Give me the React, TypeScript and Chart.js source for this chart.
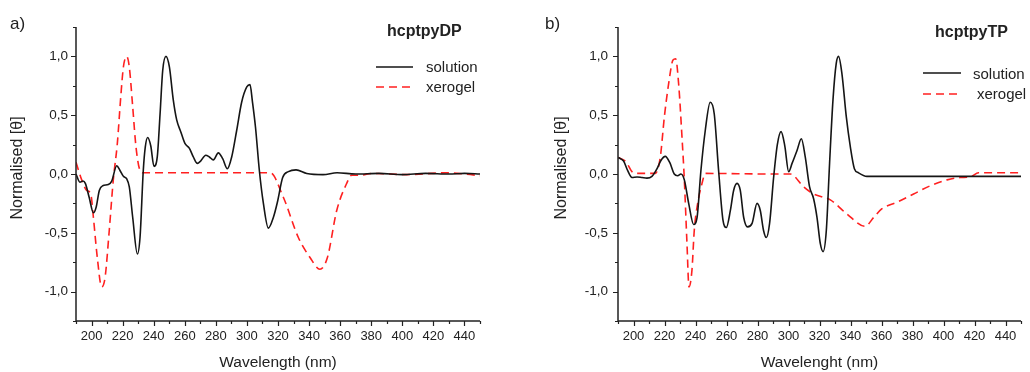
import React, { useEffect, useRef } from 'react';
import { Chart, registerables } from 'chart.js';

Chart.register(...registerables);

const FONT = '"Liberation Sans", Arial, Helvetica, sans-serif';
const TEXT = '#222222';
const AXIS = '#222222';
const BLACK = '#151515';
const RED = '#ff2020';

// ---- tick labels ----
const xMajorTicks = [200, 220, 240, 260, 280, 300, 320, 340, 360, 380, 400, 420, 440];
const xMinorTicks = [190, 210, 230, 250, 270, 290, 310, 330, 350, 370, 390, 410, 430, 450];
const yMajorTicks = [-1, -0.5, 0, 0.5, 1];
const yMinorTicks = [-1.25, -0.75, -0.25, 0.25, 0.75, 1.25];

// ---- panel a) hcptpyDP ----
const dpSolutionNm = [190, 192.5, 194.5, 196, 198.5, 201.2, 203, 205, 207.2, 210.8, 213, 216.2, 218.3, 220.5, 222.6, 224.3, 226.5, 229.5, 231.2, 233.3, 234.6, 236.1, 238.1, 240.2, 242.3, 244.1, 245.8, 247.9, 250.1, 252.6, 254.8, 257.4, 260.1, 262.9, 265.5, 268.1, 270.2, 273.5, 275.8, 278.4, 281.6, 284.4, 287.4, 290.2, 293.4, 296.6, 299.9, 302, 303.5, 305.5, 308, 310.6, 313.8, 317, 319.6, 323, 326.7, 331.6, 338.5, 349, 358, 370, 385, 400, 415, 430, 440, 450];
const dpSolution = [0.0, -0.07, -0.06, -0.08, -0.2, -0.33, -0.28, -0.14, -0.1, -0.09, -0.06, 0.07, 0.03, -0.02, -0.04, -0.11, -0.37, -0.68, -0.54, 0.03, 0.23, 0.31, 0.24, 0.065, 0.145, 0.51, 0.88, 1.0, 0.91, 0.63, 0.46, 0.36, 0.26, 0.22, 0.145, 0.09, 0.11, 0.16, 0.145, 0.12, 0.18, 0.13, 0.045, 0.145, 0.37, 0.61, 0.74, 0.76, 0.62, 0.4, 0.03, -0.25, -0.46, -0.37, -0.24, -0.03, 0.02, 0.035, 0.005, -0.005, 0.01, 0.0, 0.005, -0.005, 0.005, 0.0, 0.005, 0.0];
const dpXerogelNm = [190, 193, 196.9, 199.5, 201.2, 203.7, 206.5, 208.7, 211.4, 214, 216.6, 218.8, 220.5, 222.6, 224.3, 226.5, 228.6, 231.2, 233.3, 260, 300, 315, 323.5, 333.1, 340.6, 347, 351.8, 357.8, 364.2, 367.4, 372.8, 381.3, 402.6, 428.4, 440, 450];
const dpXerogel = [0.1, -0.025, -0.14, -0.17, -0.37, -0.71, -0.96, -0.88, -0.48, -0.05, 0.26, 0.655, 0.91, 1.0, 0.91, 0.57, 0.23, 0.03, 0.01, 0.01, 0.01, 0.01, -0.2, -0.54, -0.71, -0.81, -0.71, -0.31, -0.08, -0.01, -0.01, 0.005, -0.005, 0.01, 0.0, -0.015];

// ---- panel b) hcptpyTP ----
const tpSolutionNm = [190.2, 193.6, 196.2, 199, 202.3, 205.5, 208.7, 211.9, 215.2, 217.7, 220.5, 223.3, 226.3, 228.5, 230.6, 232.8, 235.6, 238.8, 241, 243.5, 246.3, 249.5, 252.1, 254.9, 257.7, 259.9, 262.5, 264.6, 266.8, 268.9, 271.1, 273.6, 276.5, 279.7, 281.8, 283.9, 285.7, 287.8, 290.4, 292.8, 295.2, 297.6, 300.1, 302.3, 305.5, 308.3, 310.8, 313.6, 316.2, 318.4, 320.5, 322.3, 324.4, 326.5, 328.7, 330.8, 332.3, 334.5, 337.3, 339.9, 342.5, 345.2, 350.6, 360, 380, 400, 420, 440, 450];
const tpSolution = [0.14, 0.11, 0.03, -0.03, -0.025, -0.03, -0.035, -0.02, 0.045, 0.115, 0.15, 0.1, 0.0, -0.015, 0.0, -0.05, -0.25, -0.43, -0.37, 0.03, 0.37, 0.61, 0.51, 0.03, -0.39, -0.455, -0.31, -0.14, -0.08, -0.14, -0.37, -0.45, -0.42, -0.25, -0.31, -0.48, -0.54, -0.42, -0.03, 0.25, 0.36, 0.24, 0.02, 0.09, 0.2, 0.3, 0.145, -0.11, -0.21, -0.37, -0.59, -0.66, -0.48, 0.09, 0.63, 0.94, 1.0, 0.85, 0.485, 0.23, 0.045, 0.01, -0.02, -0.02, -0.02, -0.02, -0.02, -0.02, -0.02];
const tpXerogelNm = [190.2, 195.4, 199, 202.3, 214.1, 217.3, 219.9, 222.7, 225.5, 227.2, 229.1, 231.3, 232.8, 234.5, 235.8, 237.7, 239.2, 241.4, 244.2, 246.3, 288, 301.2, 309.8, 316.2, 327, 337.7, 349.5, 354.9, 360.3, 370, 380.7, 391.5, 402.3, 410.8, 417.3, 422.6, 435, 450];
const tpXerogel = [0.14, 0.1, 0.02, 0.005, 0.005, 0.145, 0.485, 0.77, 0.97, 0.98, 0.77, 0.31, -0.05, -0.59, -0.96, -0.82, -0.48, -0.25, -0.08, 0.005, 0.0, 0.0, -0.11, -0.17, -0.22, -0.34, -0.445, -0.37, -0.295, -0.24, -0.17, -0.1, -0.05, -0.03, -0.025, 0.01, 0.01, 0.01];

const seriesLabels = ['solution', 'xerogel'];

type PanelSpec = {
  canvasLeft: number;
  width: number;
  yAxisWidth: number;
  padRight: number;
  yLabelPad: number;
  panelLabel: string;
  panelLabelX: number;
  title: string;
  titleX: number;
  titleY: number;
  legendLineX: [number, number];
  legendLineY: [number, number];
  legendTextX: [number, number];
  legendTextY: [number, number];
  yTitle: string;
  yTitleX: number;
  xTitle: string;
  solNm: number[];
  sol: number[];
  xerNm: number[];
  xer: number[];
};

const DASH = [8, 5];

function toPoints(xs: number[], ys: number[]) {
  return xs.map((x, i) => ({ x, y: ys[i] }));
}

function decorPlugin(s: PanelSpec) {
  return {
    id: 'decor',
    afterDraw(chart: any) {
      const ctx: CanvasRenderingContext2D = chart.ctx;
      const { left, right, top, bottom } = chart.chartArea;
      const xs = chart.scales.x;
      const ys = chart.scales.y;
      ctx.save();
      // axes lines
      ctx.strokeStyle = AXIS;
      ctx.lineWidth = 1.5;
      ctx.setLineDash([]);
      ctx.beginPath();
      ctx.moveTo(left, top);
      ctx.lineTo(left, bottom);
      ctx.lineTo(right, bottom);
      ctx.stroke();
      // ticks
      ctx.lineWidth = 1.2;
      ctx.beginPath();
      xMajorTicks.forEach((v) => {
        const p = Math.round(xs.getPixelForValue(v)) + 0.5;
        ctx.moveTo(p, bottom);
        ctx.lineTo(p, bottom + 5);
      });
      xMinorTicks.forEach((v) => {
        const p = Math.round(xs.getPixelForValue(v)) + 0.5;
        ctx.moveTo(p, bottom);
        ctx.lineTo(p, bottom + 3);
      });
      yMajorTicks.forEach((v) => {
        const p = Math.round(ys.getPixelForValue(v)) + 0.5;
        ctx.moveTo(left, p);
        ctx.lineTo(left - 5, p);
      });
      yMinorTicks.forEach((v) => {
        const p = Math.round(ys.getPixelForValue(v)) + 0.5;
        ctx.moveTo(left, p);
        ctx.lineTo(left - 3, p);
      });
      ctx.stroke();

      ctx.fillStyle = TEXT;
      // panel label
      ctx.font = `17px ${FONT}`;
      ctx.textAlign = 'left';
      ctx.textBaseline = 'alphabetic';
      ctx.fillText(s.panelLabel, s.panelLabelX, 29);
      // title
      ctx.font = `bold 16px ${FONT}`;
      ctx.fillText(s.title, s.titleX, s.titleY);
      // legend
      ctx.font = `15px ${FONT}`;
      ctx.lineWidth = 1.6;
      ctx.strokeStyle = BLACK;
      ctx.beginPath();
      ctx.moveTo(s.legendLineX[0], s.legendLineY[0]);
      ctx.lineTo(s.legendLineX[1], s.legendLineY[0]);
      ctx.stroke();
      ctx.strokeStyle = RED;
      ctx.setLineDash(DASH);
      ctx.beginPath();
      ctx.moveTo(s.legendLineX[0], s.legendLineY[1]);
      ctx.lineTo(s.legendLineX[1], s.legendLineY[1]);
      ctx.stroke();
      ctx.setLineDash([]);
      ctx.fillText(seriesLabels[0], s.legendTextX[0], s.legendTextY[0]);
      ctx.fillText(seriesLabels[1], s.legendTextX[1], s.legendTextY[1]);
      // x title
      ctx.font = `15.5px ${FONT}`;
      ctx.textAlign = 'center';
      ctx.textBaseline = 'middle';
      ctx.fillText(s.xTitle, (left + right) / 2, 362.5);
      // y title
      ctx.translate(s.yTitleX, 168);
      ctx.rotate(-Math.PI / 2);
      ctx.font = `16px ${FONT}`;
      ctx.fillText(s.yTitle, 0, 0);
      ctx.restore();
    },
  };
}

function Panel({ s }: { s: PanelSpec }) {
  const ref = useRef<HTMLCanvasElement>(null);
  useEffect(() => {
    const chart = new Chart(ref.current as HTMLCanvasElement, {
      type: 'line',
      data: {
        datasets: [
          {
            label: seriesLabels[0],
            data: toPoints(s.solNm, s.sol),
            borderColor: BLACK,
            borderWidth: 1.6,
            pointRadius: 0,
            fill: false,
            cubicInterpolationMode: 'monotone',
          },
          {
            label: seriesLabels[1],
            data: toPoints(s.xerNm, s.xer),
            borderColor: RED,
            borderWidth: 1.6,
            borderDash: DASH,
            pointRadius: 0,
            fill: false,
            cubicInterpolationMode: 'monotone',
          },
        ],
      },
      options: {
        responsive: false,
        animation: false,
        devicePixelRatio: 1,
        layout: { padding: { left: 0, top: 27, right: s.padRight, bottom: 0 } },
        plugins: { legend: { display: false }, tooltip: { enabled: false }, title: { display: false } },
        scales: {
          x: {
            type: 'linear',
            min: 190,
            max: 450,
            grid: { display: false, drawTicks: false },
            border: { display: false },
            afterFit: (sc: any) => {
              sc.height = 51;
            },
            ticks: {
              stepSize: 10,
              autoSkip: false,
              maxRotation: 0,
              padding: 8,
              color: TEXT,
              font: { family: FONT, size: 13 },
              callback: (v: any) => (xMajorTicks.includes(Number(v)) ? String(v) : ''),
            },
          },
          y: {
            type: 'linear',
            min: -1.25,
            max: 1.25,
            grid: { display: false, drawTicks: false },
            border: { display: false },
            afterFit: (sc: any) => {
              sc.width = s.yAxisWidth;
            },
            ticks: {
              stepSize: 0.25,
              autoSkip: false,
              padding: s.yLabelPad,
              color: TEXT,
              font: { family: FONT, size: 13.5 },
              callback: (v: any) =>
                yMajorTicks.includes(Number(v)) ? Number(v).toFixed(1).replace('.', ',') : '',
            },
          },
        },
      } as any,
      plugins: [decorPlugin(s)],
    });
    return () => chart.destroy();
  }, []);
  return (
    <canvas
      ref={ref}
      width={s.width}
      height={372}
      style={{ position: 'absolute', left: s.canvasLeft, top: 0, width: s.width, height: 372 }}
    />
  );
}

const panelA: PanelSpec = {
  canvasLeft: 0,
  width: 520,
  yAxisWidth: 76,
  padRight: 40,
  yLabelPad: 8,
  panelLabel: 'a)',
  panelLabelX: 10,
  title: 'hcptpyDP',
  titleX: 387,
  titleY: 36,
  legendLineX: [376, 413],
  legendLineY: [67, 87],
  legendTextX: [426, 426],
  legendTextY: [72, 92],
  yTitle: 'Normalised [θ]',
  yTitleX: 18,
  xTitle: 'Wavelength (nm)',
  solNm: dpSolutionNm,
  sol: dpSolution,
  xerNm: dpXerogelNm,
  xer: dpXerogel,
};

const panelB: PanelSpec = {
  canvasLeft: 520,
  width: 510,
  yAxisWidth: 98,
  padRight: 9,
  yLabelPad: 10,
  panelLabel: 'b)',
  panelLabelX: 25,
  title: 'hcptpyTP',
  titleX: 415,
  titleY: 36.5,
  legendLineX: [403, 441],
  legendLineY: [73, 94],
  legendTextX: [453, 457],
  legendTextY: [79, 98.5],
  yTitle: 'Normalised [θ]',
  yTitleX: 42,
  xTitle: 'Wavelenght (nm)',
  solNm: tpSolutionNm,
  sol: tpSolution,
  xerNm: tpXerogelNm,
  xer: tpXerogel,
};

export default function App() {
  return (
    <div style={{ position: 'absolute', left: 0, top: 0, width: 1030, height: 372, background: '#ffffff' }}>
      <Panel s={panelA} />
      <Panel s={panelB} />
    </div>
  );
}
